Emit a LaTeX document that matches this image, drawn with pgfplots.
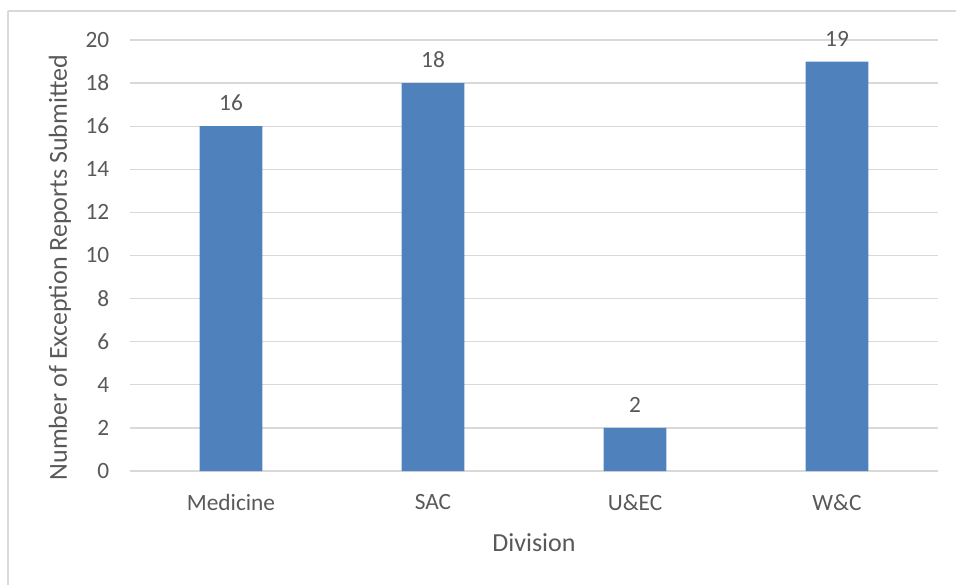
\documentclass[border=0pt]{standalone}
\usepackage{fontspec}
\setmainfont{Carlito}
\usepackage{pgfplots}
\pgfplotsset{compat=1.18}

\definecolor{barblue}{RGB}{79,129,189}
\definecolor{gridgray}{RGB}{217,217,217}
\definecolor{textgray}{RGB}{89,89,89}
\definecolor{framegray}{RGB}{217,217,217}

\begin{document}
\begin{tikzpicture}
% page: 956x585 px at 0.75pt per px, plot box origin at (130px, 471px)
\useasboundingbox (-97.5pt,-85.5pt) rectangle (619.5pt,353.25pt);
\draw[framegray, line width=1.2pt] (-91.5pt,345pt) -- (700pt,345pt);
\draw[framegray, line width=1.2pt] (-91.5pt,345pt) -- (-91.5pt,-200pt);
\begin{axis}[
  at={(0,0)}, anchor=south west,
  scale only axis,
  width=606pt, height=323.25pt,
  ybar,
  bar width=0.31,
  xmin=-0.5, xmax=3.5,
  ymin=0, ymax=20,
  xtick=data,
  xticklabels={Medicine, SAC, U\&EC, W\&C},
  ytick={0,2,...,20},
  ymajorgrids,
  grid style={gridgray, line width=1pt},
  axis line style={draw=none},
  major tick length=0pt,
  /pgf/number format/assume math mode=true,
  tick label style={font=\fontsize{17.5}{20}\selectfont, text=textgray},
  yticklabel style={xshift=-12pt},
  xticklabel style={yshift=-14pt},
  xlabel={Division},
  ylabel={Number of Exception Reports Submitted},
  label style={font=\fontsize{19.5}{22}\selectfont, text=textgray},
  xlabel style={yshift=-10pt},
  ylabel style={yshift=4pt, xshift=-9pt},
  nodes near coords,
  every node near coord/.append style={font=\fontsize{17.5}{20}\selectfont, text=textgray, yshift=8pt},
]
\addplot[fill=barblue, draw=none] coordinates {(0,16) (1,18) (2,2) (3,19)};
\end{axis}
\end{tikzpicture}
\end{document}
